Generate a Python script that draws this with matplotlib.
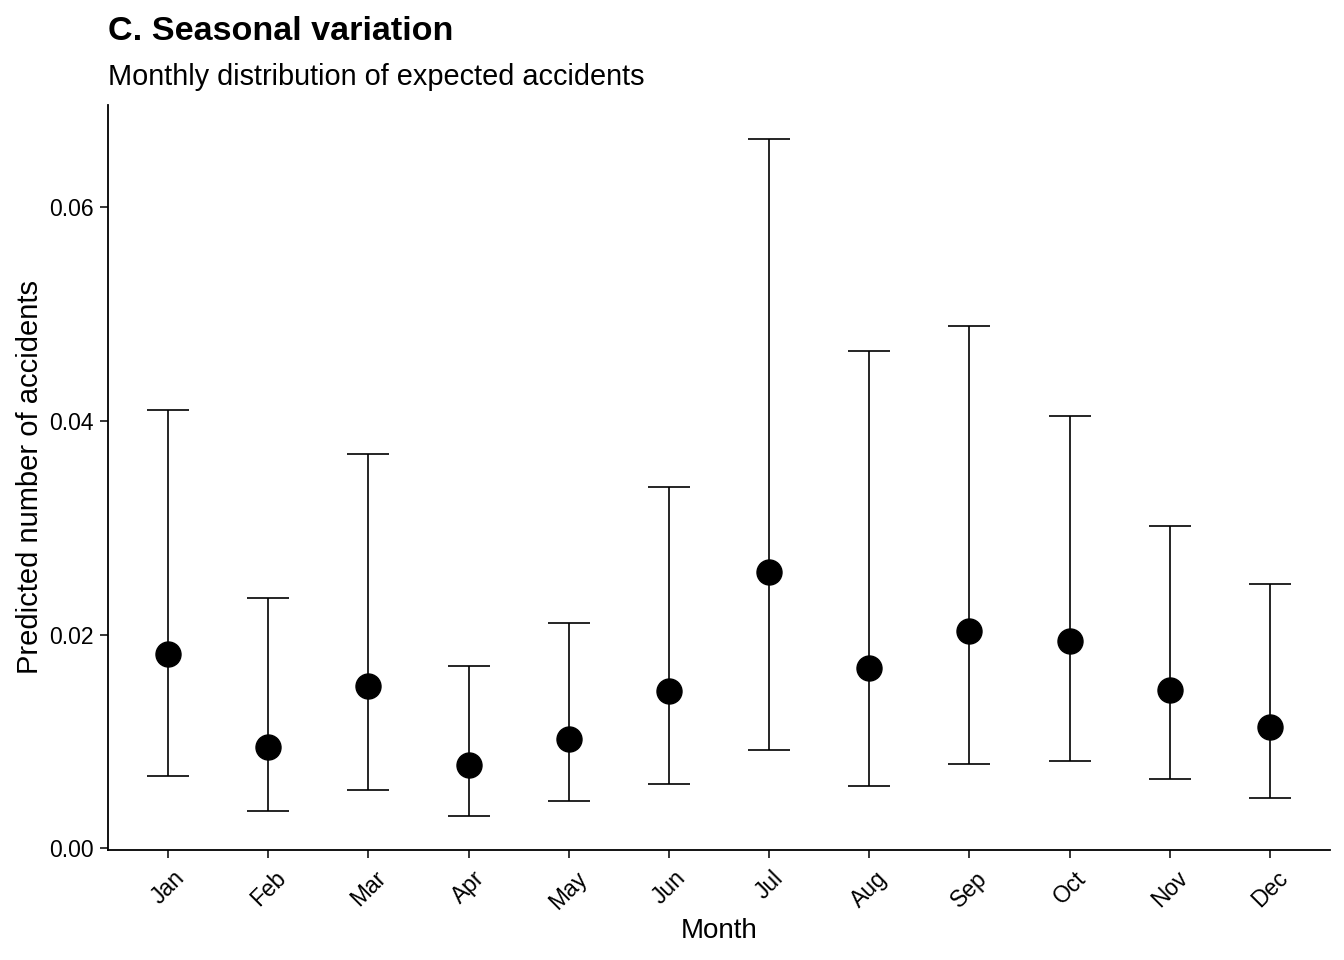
import numpy as np
import matplotlib
matplotlib.use("Agg")
import matplotlib.pyplot as plt

plt.rcParams['font.family'] = ['Liberation Sans', 'DejaVu Sans']

months = ['Jan', 'Feb', 'Mar', 'Apr', 'May', 'Jun',
          'Jul', 'Aug', 'Sep', 'Oct', 'Nov', 'Dec']
predicted = [0.0182, 0.0095, 0.0152, 0.0078, 0.0102, 0.0147,
             0.0259, 0.0169, 0.0203, 0.0194, 0.0148, 0.0113]
lower = [0.0068, 0.0035, 0.0054, 0.0030, 0.0044, 0.0060,
         0.0092, 0.0058, 0.0079, 0.0082, 0.0065, 0.0047]
upper = [0.0410, 0.0234, 0.0369, 0.0171, 0.0211, 0.0338,
         0.0664, 0.0465, 0.0489, 0.0405, 0.0302, 0.0247]

x = np.arange(1, len(months) + 1)
pred = np.array(predicted)
err = [pred - np.array(lower), np.array(upper) - pred]

fig = plt.figure(figsize=(13.44, 9.6), dpi=100)
ax = fig.add_axes([108/1344, 1 - 850/960, (1330 - 108)/1344, (850 - 105)/960])

ax.errorbar(x, pred, yerr=err, fmt='none', ecolor='black',
            elinewidth=1.2, capsize=15, capthick=1.2)
ax.plot(x, pred, 'o', color='black', markersize=18, zorder=3)

ax.set_xlim(0.4, 12.6)
lo = min(lower)
hi = max(upper)
span = hi - lo
ax.set_ylim(lo - 0.05 * span, hi + 0.05 * span)

ax.set_xticks(x)
ax.set_xticklabels(months, rotation=45, ha='center', va='top')
ax.set_yticks([0.0, 0.02, 0.04, 0.06])
ax.set_yticklabels(['0.00', '0.02', '0.04', '0.06'])
ax.tick_params(axis='both', labelsize=16.5, length=6, width=1.1, color='black', pad=4)
ax.tick_params(axis='x', pad=6)

for s in ['top', 'right']:
    ax.spines[s].set_visible(False)
for s in ['left', 'bottom']:
    ax.spines[s].set_linewidth(1.3)

ax.set_xlabel('Month', fontsize=20, labelpad=3)
ax.set_ylabel('Predicted number of accidents', fontsize=21, labelpad=4)

fig.text(108/1344, 1 - 32/960, 'C. Seasonal variation', fontsize=24.6,
         fontweight='bold', ha='left', va='center')
fig.text(108/1344, 1 - 77/960, 'Monthly distribution of expected accidents',
         fontsize=20.8, ha='left', va='center')

fig.savefig('out.png', dpi=100)
